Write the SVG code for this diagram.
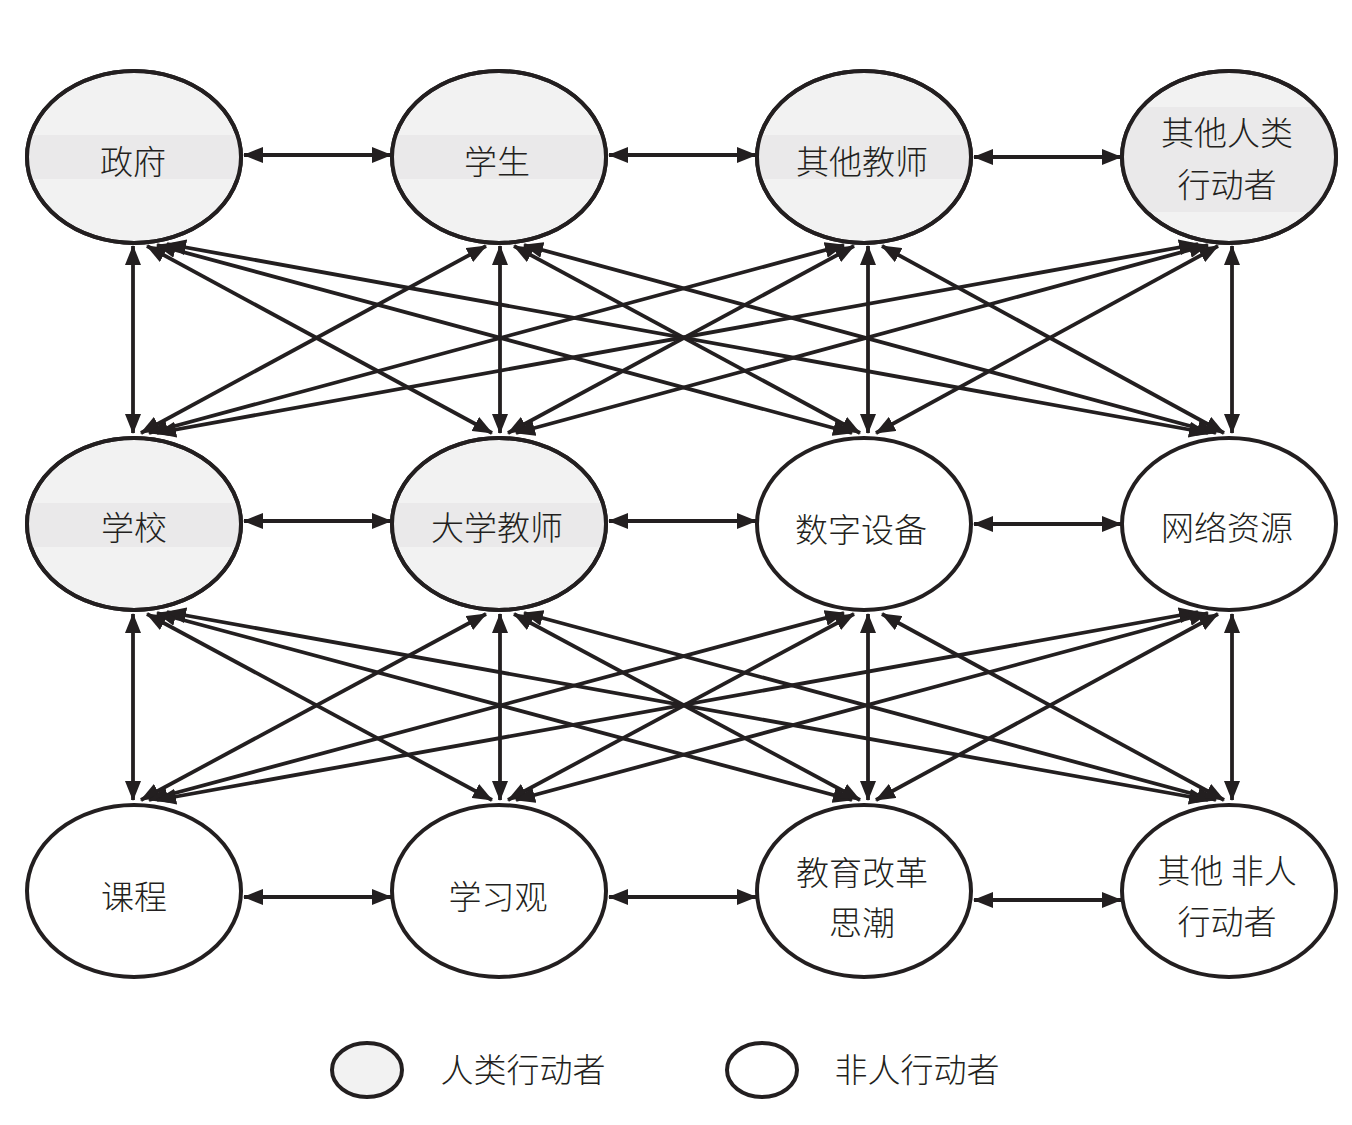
<svg xmlns="http://www.w3.org/2000/svg" width="1352" height="1125" viewBox="0 0 1352 1125">
<style>
.nh{fill:#f2f2f2;stroke:#231f20;stroke-width:4}
.nn{fill:#ffffff;stroke:#231f20;stroke-width:4}
.ol{fill:none;stroke:#231f20;stroke-width:4}
.band{fill:#eae9ea}
.t{font-family:"Noto Sans CJK SC","Noto Sans",sans-serif;font-size:33px;font-weight:300;fill:#231f20;text-anchor:middle}
.c{stroke:#231f20;stroke-width:3.8;fill:none;marker-start:url(#ah);marker-end:url(#ah)}
</style>
<defs>
<marker id="ah" markerUnits="userSpaceOnUse" viewBox="0 0 20 16" refX="19" refY="8" markerWidth="20" markerHeight="16" orient="auto-start-reverse">
<path d="M0,0 L20,8 L0,16 z" fill="#231f20"/>
</marker>
<clipPath id="c1"><ellipse cx="134" cy="157" rx="107" ry="86"/></clipPath>
<clipPath id="c2"><ellipse cx="499" cy="157" rx="107" ry="86"/></clipPath>
<clipPath id="c3"><ellipse cx="864" cy="157" rx="107" ry="86"/></clipPath>
<clipPath id="c4"><ellipse cx="1229" cy="157" rx="107" ry="86"/></clipPath>
<clipPath id="c5"><ellipse cx="134" cy="524" rx="107" ry="86"/></clipPath>
<clipPath id="c6"><ellipse cx="499" cy="524" rx="107" ry="86"/></clipPath>
</defs>
<rect width="1352" height="1125" fill="#ffffff"/>

<g id="connectors">
<line class="c" x1="244" y1="155" x2="391" y2="155"/>
<line class="c" x1="609" y1="155" x2="756" y2="155"/>
<line class="c" x1="974" y1="157" x2="1121" y2="157"/>
<line class="c" x1="244" y1="521" x2="391" y2="521"/>
<line class="c" x1="609" y1="521" x2="756" y2="521"/>
<line class="c" x1="974" y1="524" x2="1121" y2="524"/>
<line class="c" x1="244" y1="897" x2="391" y2="897"/>
<line class="c" x1="609" y1="897" x2="756" y2="897"/>
<line class="c" x1="974" y1="900" x2="1121" y2="900"/>
<line class="c" x1="133" y1="246" x2="133" y2="433"/>
<line class="c" x1="147" y1="246" x2="492" y2="433"/>
<line class="c" x1="157" y1="245" x2="852" y2="433"/>
<line class="c" x1="167" y1="244" x2="1208" y2="433"/>
<line class="c" x1="486" y1="246" x2="141" y2="433"/>
<line class="c" x1="500" y1="246" x2="500" y2="433"/>
<line class="c" x1="514" y1="246" x2="860" y2="433"/>
<line class="c" x1="524" y1="245" x2="1216" y2="433"/>
<line class="c" x1="844" y1="245" x2="149" y2="433"/>
<line class="c" x1="854" y1="246" x2="508" y2="433"/>
<line class="c" x1="868" y1="246" x2="868" y2="433"/>
<line class="c" x1="882" y1="246" x2="1224" y2="433"/>
<line class="c" x1="1198" y1="244" x2="157" y2="433"/>
<line class="c" x1="1208" y1="245" x2="516" y2="433"/>
<line class="c" x1="1218" y1="246" x2="876" y2="433"/>
<line class="c" x1="1232" y1="246" x2="1232" y2="433"/>
<line class="c" x1="133" y1="614" x2="133" y2="800"/>
<line class="c" x1="147" y1="614" x2="492" y2="800"/>
<line class="c" x1="157" y1="613" x2="852" y2="800"/>
<line class="c" x1="167" y1="612" x2="1208" y2="800"/>
<line class="c" x1="486" y1="614" x2="141" y2="800"/>
<line class="c" x1="500" y1="614" x2="500" y2="800"/>
<line class="c" x1="514" y1="614" x2="860" y2="800"/>
<line class="c" x1="524" y1="613" x2="1216" y2="800"/>
<line class="c" x1="844" y1="613" x2="149" y2="800"/>
<line class="c" x1="854" y1="614" x2="508" y2="800"/>
<line class="c" x1="868" y1="614" x2="868" y2="800"/>
<line class="c" x1="882" y1="614" x2="1224" y2="800"/>
<line class="c" x1="1198" y1="612" x2="157" y2="800"/>
<line class="c" x1="1208" y1="613" x2="516" y2="800"/>
<line class="c" x1="1218" y1="614" x2="876" y2="800"/>
<line class="c" x1="1232" y1="614" x2="1232" y2="800"/>
</g>

<g id="n-zhengfu">
<ellipse class="nh" cx="134" cy="157" rx="107" ry="86"/>
<rect class="band" x="27" y="135" width="214" height="44" clip-path="url(#c1)"/>
<ellipse class="ol" cx="134" cy="157" rx="107" ry="86"/>
<text class="t" x="133" y="174">政府</text>
</g>
<g id="n-xuesheng">
<ellipse class="nh" cx="499" cy="157" rx="107" ry="86"/>
<rect class="band" x="392" y="135" width="214" height="44" clip-path="url(#c2)"/>
<ellipse class="ol" cx="499" cy="157" rx="107" ry="86"/>
<text class="t" x="497" y="174">学生</text>
</g>
<g id="n-qitajiaoshi">
<ellipse class="nh" cx="864" cy="157" rx="107" ry="86"/>
<rect class="band" x="757" y="135" width="214" height="44" clip-path="url(#c3)"/>
<ellipse class="ol" cx="864" cy="157" rx="107" ry="86"/>
<text class="t" x="862" y="174">其他教师</text>
</g>
<g id="n-qitarenlei">
<ellipse class="nh" cx="1229" cy="157" rx="107" ry="86"/>
<rect class="band" x="1122" y="107" width="214" height="105" clip-path="url(#c4)"/>
<ellipse class="ol" cx="1229" cy="157" rx="107" ry="86"/>
<text class="t" x="1227" y="145">其他人类</text>
<text class="t" x="1227" y="197">行动者</text>
</g>
<g id="n-xuexiao">
<ellipse class="nh" cx="134" cy="524" rx="107" ry="86"/>
<rect class="band" x="27" y="503" width="214" height="44" clip-path="url(#c5)"/>
<ellipse class="ol" cx="134" cy="524" rx="107" ry="86"/>
<text class="t" x="134" y="540">学校</text>
</g>
<g id="n-daxuejiaoshi">
<ellipse class="nh" cx="499" cy="524" rx="107" ry="86"/>
<rect class="band" x="392" y="503" width="214" height="44" clip-path="url(#c6)"/>
<ellipse class="ol" cx="499" cy="524" rx="107" ry="86"/>
<text class="t" x="497" y="540">大学教师</text>
</g>
<g id="n-shuzishebei">
<ellipse class="nn" cx="864" cy="524" rx="107" ry="86"/>
<text class="t" x="861" y="542">数字设备</text>
</g>
<g id="n-wangluoziyuan">
<ellipse class="nn" cx="1229" cy="524" rx="107" ry="86"/>
<text class="t" x="1227" y="540">网络资源</text>
</g>
<g id="n-kecheng">
<ellipse class="nn" cx="134" cy="891" rx="107" ry="86"/>
<text class="t" x="134" y="909">课程</text>
</g>
<g id="n-xuexiguan">
<ellipse class="nn" cx="499" cy="891" rx="107" ry="86"/>
<text class="t" x="498" y="909">学习观</text>
</g>
<g id="n-jiaoyugaige">
<ellipse class="nn" cx="864" cy="891" rx="107" ry="86"/>
<text class="t" x="862" y="885">教育改革</text>
<text class="t" x="862" y="935">思潮</text>
</g>
<g id="n-qitafeiren">
<ellipse class="nn" cx="1229" cy="891" rx="107" ry="86"/>
<text class="t" x="1227" y="883">其他 非人</text>
<text class="t" x="1227" y="934">行动者</text>
</g>

<g id="legend">
<ellipse class="nh" cx="367" cy="1070" rx="35" ry="27"/>
<text class="t" x="523" y="1082">人类行动者</text>
<ellipse class="nn" cx="762" cy="1070" rx="35" ry="27"/>
<text class="t" x="917" y="1082">非人行动者</text>
</g>
</svg>
